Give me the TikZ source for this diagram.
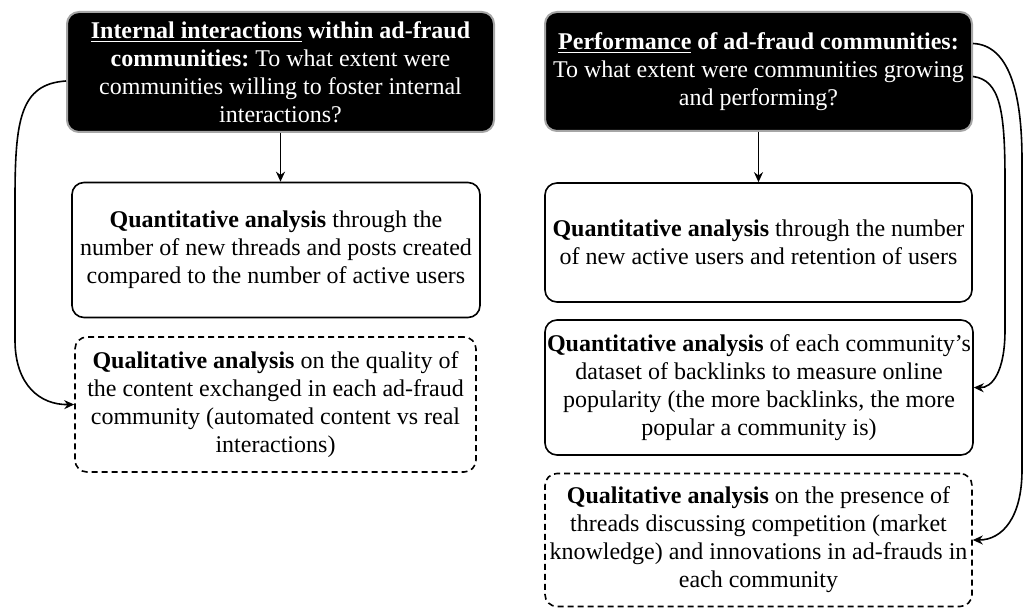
\documentclass[tikz,border=0pt]{standalone}
\usepackage{fontspec}
\setmainfont{Liberation Serif}
\usetikzlibrary{arrows.meta}
\frenchspacing
\tikzset{
  darkbox/.style={draw=gray!70,line width=1pt,fill=black,text=white,rounded corners=6pt,align=center,inner sep=0pt},
  plainbox/.style={draw,line width=0.8pt,rounded corners=6pt,align=center,inner sep=0pt},
  dashbox/.style={plainbox,dash pattern=on 3pt off 2pt}
}
\begin{document}
\begin{tikzpicture}[>={Stealth[length=5pt,width=4.5pt]},x=0.5pt,y=-0.5pt,font=\fontsize{12}{14}\selectfont]
        \useasboundingbox (0,0) rectangle (1025,608);
        \node (L1) at (280.5,72)[darkbox,minimum width=213.5pt,minimum height=60pt]{\textbf{\underline{Internal interactions} within ad-fraud}\\ \textbf{communities:} To what extent were\\ communities willing to foster internal\\ interactions?};
        \node (L2) at (276,250)[plainbox,minimum width=204pt,minimum height=67.5pt]{\textbf{Quantitative analysis} through the\\ number of new threads and posts created\\ compared to the number of active users};
        \node (L3) at (275.5,404.5)[dashbox,minimum width=200.5pt,minimum height=67.5pt]{\textbf{Qualitative analysis} on the quality of\\ the content exchanged in each ad-fraud\\ community (automated content vs real\\ interactions)};
        \node (R1) at (758.5,71.5)[darkbox,minimum width=213.5pt,minimum height=59.5pt]{\textbf{\underline{Performance} of ad-fraud communities:}\\ To what extent were communities growing\\ and performing?};
        \node (R2) at (758.5,242.5)[plainbox,minimum width=213.5pt,minimum height=59.5pt]{\textbf{Quantitative analysis} through the number\\ of new active users and retention of users};
        \node (R3) at (759,387.5)[plainbox,minimum width=214pt,minimum height=67.5pt]{\textbf{Quantitative analysis} of each community's\\ dataset of backlinks to measure online\\ popularity (the more backlinks, the more\\ popular a community is)};
        \node (R4) at (758.5,540)[dashbox,minimum width=213.5pt,minimum height=66.5pt]{\textbf{Qualitative analysis} on the presence of\\ threads discussing competition (market\\ knowledge) and innovations in ad-frauds in\\ each community};
        \draw [->,line width=0.8pt](L1.south)--(L1.south |- L2.north);
        \draw [->,line width=0.8pt](R1.south)--(R1.south |- R2.north);
        % curved links along the outer sides
        \draw [->,line width=0.8pt]([yshift=-4.5pt]L1.west) .. controls (20,84) and (15,120) .. (15,200) -- (15,340) .. controls (15,385) and (40,405) .. (L3.west);
        \draw [->,line width=0.8pt]([yshift=-2.5pt]R1.east) .. controls (1000,80) and (1005,110) .. (1005,180) -- (1005,330) .. controls (1005,372) and (992,388) .. (R3.east);
        \draw [->,line width=0.8pt]([yshift=14pt]R1.east) .. controls (1008,45) and (1022,90) .. (1022,160) -- (1022,470) .. controls (1022,518) and (1002,540) .. (R4.east);
\end{tikzpicture}
\end{document}
